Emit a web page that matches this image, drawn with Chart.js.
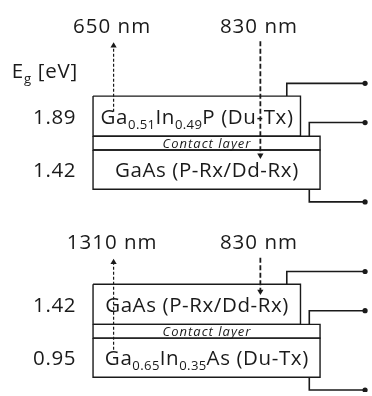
<!DOCTYPE html>
<html>
<head>
<meta charset="utf-8">
<script src="https://cdn.jsdelivr.net/npm/chart.js@4/dist/chart.umd.min.js"></script>
<style>
  html, body { margin: 0; padding: 0; background: #ffffff; }
  #wrap { width: 372px; height: 396px; }
</style>
</head>
<body>
<div id="wrap"><canvas id="c" width="372" height="396"></canvas></div>
<script>
// ---------- data ----------
const bandGapsTop = [1.89, 1.42];          // eV, upper layer then lower layer
const bandGapsBottom = [1.42, 0.95];
const layersTop = ['Ga_{0.51}In_{0.49}P (Du-Tx)', 'GaAs (P-Rx/Dd-Rx)'];
const layersBottom = ['GaAs (P-Rx/Dd-Rx)', 'Ga_{0.65}In_{0.35}As (Du-Tx)'];
const wavelengthsTop = [650, 830];         // nm: emitted (up), received (down)
const wavelengthsBottom = [1310, 830];
const contactLabel = 'Contact layer';
const axisLabel = 'E_{g} [eV]';

// ---------- layout (positions in the scale's units) ----------
const LAYOUT = {
  left: 91, narrowRight: 303, wideRight: 323,
  stackTops: [94, 286],
  hUpper: 41, hContact: 14, hLower: 40,
  wireX: [289, 312], wireEnd: 369, wireRise: [13, 14], wireDrop: 13,
  emitX: 112, recvX: 262,
  labelTopY: [22, 243], valueRight: 73, axisLabelX: 8, axisLabelY: 68
};
const INK = '#1a1a1a';
const FONT = '"Open Sans", "Noto Sans", sans-serif';

function rect(x0, y0, x1, y1) {
  return [{x:x0,y:y0},{x:x1,y:y0},{x:x1,y:y1},{x:x0,y:y1},{x:x0,y:y0}];
}

const datasets = [];
const texts = [];
const stacks = [
  { gaps: bandGapsTop, layers: layersTop, wl: wavelengthsTop },
  { gaps: bandGapsBottom, layers: layersBottom, wl: wavelengthsBottom }
];

stacks.forEach((s, i) => {
  const t = LAYOUT.stackTops[i];
  const yC = t + LAYOUT.hUpper;
  const yL = yC + LAYOUT.hContact;
  const yB = yL + LAYOUT.hLower;
  const boxStyle = { showLine: true, fill: false, borderColor: INK, borderWidth: 1.4, pointRadius: 0, tension: 0 };
  datasets.push(Object.assign({ data: rect(LAYOUT.left, t, LAYOUT.narrowRight, yC) }, boxStyle));
  datasets.push(Object.assign({ data: rect(LAYOUT.left, yC, LAYOUT.wideRight, yL) }, boxStyle));
  datasets.push(Object.assign({ data: rect(LAYOUT.left, yL, LAYOUT.wideRight, yB) }, boxStyle));

  // wires
  const wireStyle = { showLine: true, fill: false, borderColor: INK, borderWidth: 1.6, tension: 0,
    pointRadius: [0, 0, 2.6], pointBackgroundColor: INK, pointBorderWidth: 0 };
  const w1y = t - LAYOUT.wireRise[0];
  const w2y = yC - LAYOUT.wireRise[1];
  const w3y = yB + LAYOUT.wireDrop;
  datasets.push(Object.assign({ data: [{x:LAYOUT.wireX[0],y:t},{x:LAYOUT.wireX[0],y:w1y},{x:LAYOUT.wireEnd,y:w1y}] }, wireStyle));
  datasets.push(Object.assign({ data: [{x:LAYOUT.wireX[1],y:yC},{x:LAYOUT.wireX[1],y:w2y},{x:LAYOUT.wireEnd,y:w2y}] }, wireStyle));
  datasets.push(Object.assign({ data: [{x:LAYOUT.wireX[1],y:yB},{x:LAYOUT.wireX[1],y:w3y},{x:LAYOUT.wireEnd,y:w3y}] }, wireStyle));

  // arrows
  const r = 3.6;
  const emitStart = i === 0 ? t + 16 : yL + 12;
  const emitTip = LAYOUT.labelTopY[i] + 17 + r;
  datasets.push({ data: [{x:LAYOUT.emitX,y:emitStart},{x:LAYOUT.emitX,y:emitTip}], showLine: true, fill: false,
    borderColor: INK, borderWidth: 1.2, borderDash: [3, 2], tension: 0,
    pointStyle: 'triangle', pointRadius: [0, r], rotation: 0, pointBackgroundColor: INK, pointBorderWidth: 0 });
  const recvStart = LAYOUT.labelTopY[i] + 16;
  const recvTip = (i === 0 ? yL + 9 : yC - 30) - r;
  datasets.push({ data: [{x:LAYOUT.recvX,y:recvStart},{x:LAYOUT.recvX,y:recvTip}], showLine: true, fill: false,
    borderColor: INK, borderWidth: 1.8, borderDash: [5, 2.5], tension: 0,
    pointStyle: 'triangle', pointRadius: [0, r], rotation: 180, pointBackgroundColor: INK, pointBorderWidth: 0 });

  // texts
  const upperC = t + LAYOUT.hUpper / 2;
  const lowerC = yL + LAYOUT.hLower / 2;
  const big = { size: 20.5, spacing: 0.6 };
  texts.push(Object.assign({ s: s.gaps[0].toFixed(2), x: LAYOUT.valueRight, y: upperC, align: 'right' }, big));
  texts.push(Object.assign({ s: s.gaps[1].toFixed(2), x: LAYOUT.valueRight, y: lowerC, align: 'right' }, big));
  texts.push(Object.assign({ s: s.layers[0], x: (LAYOUT.left + LAYOUT.narrowRight) / 2, y: upperC, align: 'center' }, big));
  texts.push(Object.assign({ s: s.layers[1], x: (LAYOUT.left + LAYOUT.wideRight) / 2, y: lowerC, align: 'center' }, big));
  texts.push({ s: contactLabel, x: (LAYOUT.left + LAYOUT.wideRight) / 2, y: yC + LAYOUT.hContact / 2 + 0.5, align: 'center', size: 13, spacing: 1, italic: true });
  texts.push(Object.assign({ s: s.wl[0] + ' nm', x: LAYOUT.emitX - 2, y: LAYOUT.labelTopY[i], align: 'center' }, big, { spacing: 1 }));
  texts.push(Object.assign({ s: s.wl[1] + ' nm', x: LAYOUT.recvX - 2, y: LAYOUT.labelTopY[i], align: 'center' }, big, { spacing: 1 }));
});
texts.push({ s: axisLabel, x: LAYOUT.axisLabelX, y: LAYOUT.axisLabelY, align: 'left', size: 20.5, spacing: 0.8 });

function parseRich(str) {
  const segs = [];
  const re = /_\{([^}]*)\}/g;
  let last = 0, m;
  while ((m = re.exec(str))) {
    if (m.index > last) segs.push({ t: str.slice(last, m.index), sub: false });
    segs.push({ t: m[1], sub: true });
    last = re.lastIndex;
  }
  if (last < str.length) segs.push({ t: str.slice(last), sub: false });
  return segs;
}

const textPlugin = {
  id: 'diagramText',
  beforeDatasetsDraw(chart) {
    const ctx = chart.ctx;
    const xs = chart.scales.x, ys = chart.scales.y;
    ctx.save();
    ctx.fillStyle = INK;
    ctx.textBaseline = 'alphabetic';
    ctx.textAlign = 'left';
    texts.forEach(tx => {
      const size = tx.size;
      const subSize = size * 0.64;
      const style = tx.italic ? 'italic ' : '';
      const segs = parseRich(tx.s);
      let total = 0;
      segs.forEach(sg => {
        ctx.font = style + (sg.sub ? subSize : size) + 'px ' + FONT;
        ctx.letterSpacing = (sg.sub ? (tx.spacing || 0) * 0.6 : (tx.spacing || 0)) + 'px';
        sg.w = ctx.measureText(sg.t).width;
        total += sg.w;
      });
      total -= (tx.spacing || 0);
      const px = xs.getPixelForValue(tx.x);
      const py = ys.getPixelForValue(tx.y);
      let x = tx.align === 'center' ? px - total / 2 : tx.align === 'right' ? px - total : px;
      const base = py + size * 0.36;
      segs.forEach(sg => {
        ctx.font = style + (sg.sub ? subSize : size) + 'px ' + FONT;
        ctx.letterSpacing = (sg.sub ? (tx.spacing || 0) * 0.6 : (tx.spacing || 0)) + 'px';
        ctx.fillText(sg.t, x, sg.sub ? base + size * 0.26 : base);
        x += sg.w;
      });
    });
    ctx.restore();
  }
};

new Chart(document.getElementById('c'), {
  type: 'scatter',
  data: { datasets },
  options: {
    responsive: false,
    animation: false,
    devicePixelRatio: 1,
    layout: { padding: 0 },
    scales: {
      x: { type: 'linear', min: 0, max: 372, display: false },
      y: { type: 'linear', min: 0, max: 396, reverse: true, display: false }
    },
    plugins: { legend: { display: false }, tooltip: { enabled: false } },
    elements: { line: { borderCapStyle: 'butt', borderJoinStyle: 'miter' } }
  },
  plugins: [textPlugin]
});
</script>
</body>
</html>
